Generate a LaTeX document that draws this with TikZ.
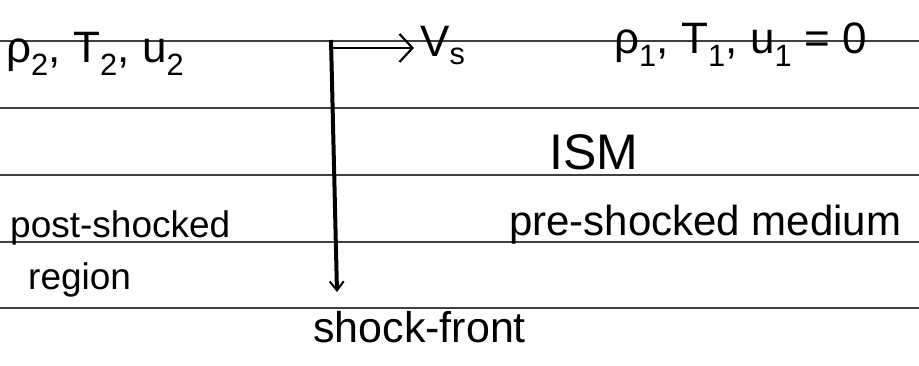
\documentclass[tikz,border=0pt]{standalone}
\usepackage{fontspec}
\setmainfont{Liberation Sans}
\usetikzlibrary{arrows.meta}

\begin{document}
\begin{tikzpicture}[x=1pt, y=-1pt, font=\fontsize{38}{40}\selectfont,
  rule/.style={black!75, line width=1.1pt},
  lbl/.style={anchor=base west, inner sep=0pt}]
  \useasboundingbox (0,0) rectangle (919,366);
  % ruled paper
  \foreach \y in {41,108,175,242,308}
    \draw[rule] (0,\y) -- (919,\y);
  % shocked gas (left) and ISM (right)
  \node[lbl, font=\fontsize{44}{44}\selectfont] (rhotwo) at (6,63) {ρ\textsubscript{2}, T\textsubscript{2}, u\textsubscript{2}};
  \node[lbl, font=\fontsize{44}{44}\selectfont] (rhoone) at (614,54) {ρ\textsubscript{1}, T\textsubscript{1}, u\textsubscript{1} = 0};
  \node[lbl, font=\fontsize{50}{50}\selectfont] (ism) at (549,170) {ISM};
  \node[lbl, font=\fontsize{42}{42}\selectfont] (pre) at (509,236) {pre-shocked medium};
  \node[lbl, font=\fontsize{37}{37}\selectfont] (post) at (10,238) {post-shocked};
  \node[lbl, font=\fontsize{37}{37}\selectfont] (region) at (28,290) {region};
  \node[lbl, font=\fontsize{43}{43}\selectfont] (front) at (313,342) {shock-front};
  \node[lbl, font=\fontsize{44}{44}\selectfont] (vs) at (420,57) {V\textsubscript{s}};
  % the front and its velocity
  \coordinate (ftop) at (331,40);
  \coordinate (fbot) at (337,292);
  \draw[-{Straight Barb[length=9pt,width=14pt,line width=2pt]}, line width=4pt] (ftop) -- (fbot);
  \draw[-{Straight Barb[length=13pt,width=28pt,line width=2.2pt]}, line width=2.2pt]
    (331,48) -- ([xshift=-6pt]331,48 -| vs.west);
\end{tikzpicture}
\end{document}
